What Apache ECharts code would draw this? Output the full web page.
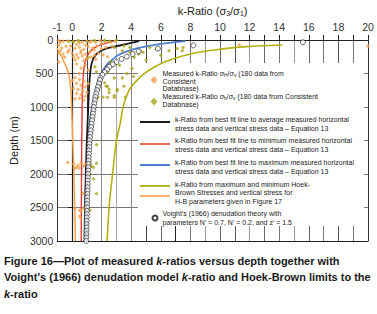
<!DOCTYPE html>
<html><head><meta charset="utf-8">
<script src="https://cdn.jsdelivr.net/npm/echarts@6/dist/echarts.min.js"></script>
<style>html,body{margin:0;padding:0;background:#fff}#c{width:377px;height:314px}</style>
</head><body><div id="c"></div>
<script>
// ---- tick labels ----
const xTickLabels = ['-1','0','2','4','6','8','10','12','14','16','18','20'];
const depthTicks = [0,500,1000,1500,2000,2500,3000];

// ---- measured k-ratio sigmaH/sigmaV (orange) [k, depth] ----
const measuredH = [
 [-0.9,10],[-0.6,20],[-0.3,15],[0.1,25],[0.4,10],[0.7,30],[1.0,20],[1.3,15],[1.6,35],[1.9,10],[2.2,25],[2.6,30],[2.9,20],[-0.8,40],[0.5,45],[1.2,40],[2.0,50],
 [-0.9,80],[-0.7,120],[-0.4,100],[-0.1,90],[0.2,130],[0.5,110],[0.8,140],[1.1,100],[1.4,120],[1.7,90],[2.0,130],[2.3,110],[2.7,95],[0.3,70],[0.9,75],[1.5,150],[-0.2,150],[0.6,160],
 [-0.9,190],[-0.6,210],[-0.3,180],[0.0,200],[0.3,220],[0.6,190],[0.9,210],[1.2,180],[1.5,230],[1.8,200],[2.1,220],[0.1,250],[0.4,270],[0.7,240],[1.0,280],[1.3,260],[-0.5,260],[0.2,300],[0.8,310],[1.6,290],[2.4,250],[-0.8,160],
 [0.3,360],[0.6,420],[-0.9,330],[0.9,380],[1.1,450],[0.5,500],
 [0.2,560],[0.5,590],[0.8,620],[0.3,650],[0.6,680],[0.9,700],[0.1,720],[0.4,740],[0.7,760],[1.0,780],[0.3,800],[0.6,820],[0.9,840],[0.5,870],[0.2,880],[0.8,900],[1.1,650],[0.0,610],
 [-0.3,1830],[0.1,1850],[0.4,1870],[0.6,1840],[0.8,1880],[0.3,1900],[0.5,1910],[0.9,1850],[0.2,1920],
 [0.75,2290],
 [0.2,2520],[0.5,2540],[0.8,2510],[1.1,2530],[0.6,2550],[0.5,2630],[0.6,2660],
 [11.3,72],[20,91]
];
// ---- measured k-ratio sigmah/sigmaV (olive) [k, depth] ----
const measuredh = [
 [2.2,5],[2.5,20],[2.85,115],[3.5,90],[3.4,160],[3.9,185],[4.5,210],[5.25,115],[5.7,140],[6.55,160],[7.1,130],[7.5,115],[7.45,160],[4.6,160],[4.8,185],
 [1.1,258],[1.55,400],[1.65,475],[2.2,640],[2.4,690],[3.05,735],[3.4,570],[3.5,690],[3.7,500],[4.05,425],[4.15,545],[4.6,500],[4.8,640],[2.85,830],[3.6,855],
 [2.5,735],[2.5,785],[1.75,855],[2.1,855],[2.4,855],[2.85,855],[3.05,760],[2.3,690],
 [-0.2,20],[0.1,30],[0.45,15],[1.0,25],[1.5,10],[3.0,5],[3.9,115],[2.6,330],[3.2,380],[2.4,475],[2.85,570],
 [1.65,1565],[1.65,1840],[1.45,1905],[1.2,1840],[1.3,1885],[1.2,2005],[1.45,2075],[1.65,2290],[1.2,2540],
 [6.0,230],[5.0,300],[4.2,260]
];
// ---- best-fit lines (Equation 13) [k, depth] ----
const avgFit = [[4.53,19],[3.07,91],[2.2,139],[1.65,210],[1.32,354],[1.17,641],[1.1,976],[1.0,1500],[0.93,2000],[0.88,2500],[0.85,3000]];
const minFit = [[2.81,19],[1.54,115],[0.99,258],[0.77,497],[0.68,1000],[0.64,2000],[0.62,3000]];
const maxFit = [[7.66,19],[6.0,60],[4.5,120],[3.6,180],[3.07,234],[2.7,300],[2.41,354],[2.1,450],[1.87,569],[1.68,700],[1.54,832],[1.4,976],[1.22,1200],[1.12,1500],[1.05,2000],[1.0,2500],[0.97,3000]];
// ---- Hoek-Brown limits [k, depth] ----
const hbMax = [[14.2,75],[11.8,100],[9.6,150],[8.2,200],[6.6,300],[5.6,400],[4.9,500],[4.4,600],[4.0,700],[3.75,800],[3.45,1000],[3.25,1250],[3.0,1500],[2.74,2000],[2.6,2270],[2.5,2500],[2.37,3000]];
const hbMin = [[-1.0,120],[-0.87,187],[-0.7,250],[-0.54,330],[-0.35,420],[-0.21,521],[-0.13,650],[-0.08,760],[-0.03,1000],[0.05,1500],[0.12,2000],[0.18,2500],[0.23,3000]];
// ---- Voight (1966) denudation theory [k, depth] ----
const voight = [[15.6,35],[8.2,82],[5.8,130],[4.5,172],[4.1,211],[3.7,249],[3.35,285],[3.0,330],[2.75,365],[2.52,400],[2.37,440],[2.2,480],[2.05,520],[1.93,570],
 [1.88,600],[1.82,650],[1.75,700],[1.69,750],[1.63,800],[1.58,850],[1.54,900],[1.50,950],[1.47,1000],[1.44,1050],[1.41,1100],[1.38,1150],[1.35,1200],[1.32,1250],[1.29,1300],[1.26,1350],[1.23,1400],[1.21,1450],[1.19,1500],[1.17,1550],[1.16,1600],[1.15,1650],[1.14,1700],[1.13,1750],[1.12,1800],[1.11,1850],[1.10,1900],[1.09,1950],[1.08,2000],[1.07,2050],[1.06,2100],[1.06,2150],[1.05,2200],[1.04,2250],[1.03,2300],[1.02,2350],[1.02,2400],[1.01,2450],[1.01,2500],[1.00,2550],[1.00,2600],[0.99,2650],[0.99,2700],[0.98,2750],[0.98,2800],[0.97,2850],[0.97,2900],[0.96,2950],[0.96,3000]];

const legendTexts = {
 mH: 'Measured k-Ratio σ{s|H}/σ{s|v} (180 data from\nConsistent\nDatabnase)',
 mh: 'Measured k-Ratio σ{s|h}/σ{s|v} (180 data from Consistent\nDatabnase)',
 avg: 'k-Ratio from best fit line to average measured horizontal\nstress data and vertical stress data – Equation 13',
 min: 'k-Ratio from best fit line to minimum measured horizontal\nstress data and vertical stress data – Equation 13',
 max: 'k-Ratio from best fit line to maximum measured horizontal\nstress data and vertical stress data – Equation 13',
 hb: 'k-Ratio from maximum and minimum Hoek-\nBrown Stresses and vertical stress for\nH-B parameters given in Figure 17',
 hbmin: ' ',
 voight: "Voight's (1966) denudation theory with\nparameters N' = 0.7, N' = 0.2, and z' = 1.5"
};

const FONT = '"Liberation Sans", Arial, sans-serif';
const C = {orange:'#F5A04A', oliveDot:'#A9A51C', olive:'#B5AF10', black:'#1b1b1b', red:'#E5392B', blue:'#4F7FD0'};
const LH = 8.3;

function leg(key, top, o) {
  return {
    data: [{name: key, icon: o.icon || 'rect'}], left: o.left || 140, top: top, padding: 0,
    itemWidth: o.w || 30, itemHeight: o.h || 2, itemGap: 0,
    textGap: o.gap || 3, orient: 'vertical', selectedMode: false, z: 5,
    formatter: n => legendTexts[n],
    textStyle: {fontFamily: FONT, fontSize: 7, lineHeight: o.lh || LH, color: '#222', padding: o.pad || 0,
      rich: {s: {fontFamily: FONT, fontSize: 5, lineHeight: 4, verticalAlign: 'bottom', color: '#222'}}}
  };
}

const chart = echarts.init(document.getElementById('c'), null, {renderer: 'svg'});
const splitColors = ['#333','#444','#444','#888','#aaa','#888','#444','#666','#222','#777','#999','#666','#555','#999','#666','#777','#999','#666','#777','#555','#777','#333'];

chart.setOption({
  animation: false,
  backgroundColor: '#fff',
  grid: {left: 48, top: 32, width: 320, height: 209},
  xAxis: [{
    type: 'value', position: 'top', min: -1, max: 20, interval: 1,
    name: '{a|k-Ratio (σ}{s|3}{a|/σ}{s|1}{a|)}', nameLocation: 'middle', nameGap: 20,
    nameTextStyle: {rich: {a: {fontFamily: FONT, fontSize: 11, lineHeight: 13, color: '#222'}, s: {fontFamily: FONT, fontSize: 7, lineHeight: 6, verticalAlign: 'bottom', color: '#222'}}},
    axisLine: {show: true, lineStyle: {color: '#222', width: 1.2}},
    axisTick: {show: true, length: 5, lineStyle: {color: '#222'}},
    axisLabel: {interval: 0, margin: 7, fontFamily: FONT, fontSize: 10.5, color: '#333',
      formatter: v => xTickLabels.includes(String(v)) ? String(v) : ''},
    splitLine: {show: true, lineStyle: {color: splitColors, width: 1}}
  }, {
    type: 'value', position: 'bottom', min: -1, max: 20, interval: 1,
    axisLine: {show: true, lineStyle: {color: '#222', width: 1.2}},
    axisTick: {show: false}, axisLabel: {show: false}, splitLine: {show: false}
  }],
  yAxis: {
    type: 'value', inverse: true, min: 0, max: 3000, interval: 500,
    name: 'Depth (m)', nameLocation: 'middle', nameGap: 33,
    nameTextStyle: {fontFamily: FONT, fontSize: 11, color: '#222'},
    axisLine: {show: true, lineStyle: {color: '#222', width: 1.2}},
    axisTick: {show: true, length: 4, lineStyle: {color: '#222'}},
    axisLabel: {margin: 4, fontFamily: FONT, fontSize: 10.5, color: '#333',
      formatter: v => depthTicks.includes(v) ? String(v) : ''},
    splitLine: {show: true, lineStyle: {color: '#777', width: 1}}
  },
  graphic: [
    {type: 'rect', shape: {x: 138, y: 63, width: 226, height: 163}, style: {fill: '#fff'}, z: 3, silent: true},
    {type: 'text', left: 4, top: 255, z: 10,
     style: {
      text: '{b|Figure 16—Plot of measured }{bi|k}{b|-ratios versus depth together with}\n{b|Voight\'s (1966) denudation model }{bi|k}{b|-ratio and Hoek-Brown limits to the}\n{bi|k}{b|-ratio}',
      rich: {
        b: {fontFamily: FONT, fontWeight: 'bold', fontSize: 11, lineHeight: 16.5, fill: '#1a1a1a'},
        bi: {fontFamily: FONT, fontWeight: 'bold', fontStyle: 'italic', fontSize: 11, lineHeight: 16.5, fill: '#1a1a1a'}
      }
     }}
  ],
  legend: [
    leg('mH', 67.75, {icon: 'diamond', left: 150.5, w: 7, h: 8, gap: 15.5, lh: 7.5, pad: [2,0,0,0]}),
    leg('mh', 92.5, {icon: 'diamond', left: 150.5, w: 7, h: 8, gap: 15.5, lh: 8, pad: [0,0,2,0]}),
    leg('avg', 111.7, {h: 2, pad: [4,0,0,0]}),
    leg('min', 134.7, {h: 1.5, pad: [2,0,0,0]}),
    leg('max', 154.7, {h: 2, pad: [4,0,0,0]}),
    leg('hb', 166.5, {h: 1.8, pad: [14,0,0,0]}),
    leg('hbmin', 191.85, {h: 1.6}),
    leg('voight', 209.7, {icon: 'circle', left: 151.5, w: 5, h: 6, gap: 16.5})
  ],
  series: [
    {name: 'mH', type: 'scatter', data: measuredH, symbol: 'diamond', symbolSize: 4, itemStyle: {color: C.orange}, z: 2},
    {name: 'mh', type: 'scatter', data: measuredh, symbol: 'diamond', symbolSize: 4, itemStyle: {color: C.oliveDot}, z: 2},
    {name: 'hbmin', type: 'line', data: hbMin, symbol: 'none', smooth: 0.3, lineStyle: {color: C.orange, width: 1.5}, itemStyle: {color: C.orange}, z: 2},
    {name: 'hb', type: 'line', data: hbMax, symbol: 'none', smooth: 0.3, lineStyle: {color: C.olive, width: 1.6}, itemStyle: {color: C.olive}, z: 3.5},
    {name: 'min', type: 'line', data: minFit, symbol: 'none', smooth: 0.3, lineStyle: {color: C.red, width: 1.4}, itemStyle: {color: C.red}, z: 2},
    {name: 'avg', type: 'line', data: avgFit, symbol: 'none', smooth: 0.3, lineStyle: {color: C.black, width: 1.8}, itemStyle: {color: C.black}, z: 2},
    {name: 'max', type: 'line', data: maxFit, symbol: 'none', smooth: 0.3, lineStyle: {color: C.blue, width: 1.8}, itemStyle: {color: C.blue}, z: 2},
    {name: 'voight', type: 'scatter', data: voight, symbol: 'circle', symbolSize: 5, itemStyle: {color: '#fff', borderColor: '#111', borderWidth: 0.8}, z: 2}
  ]
});
</script></body></html>
